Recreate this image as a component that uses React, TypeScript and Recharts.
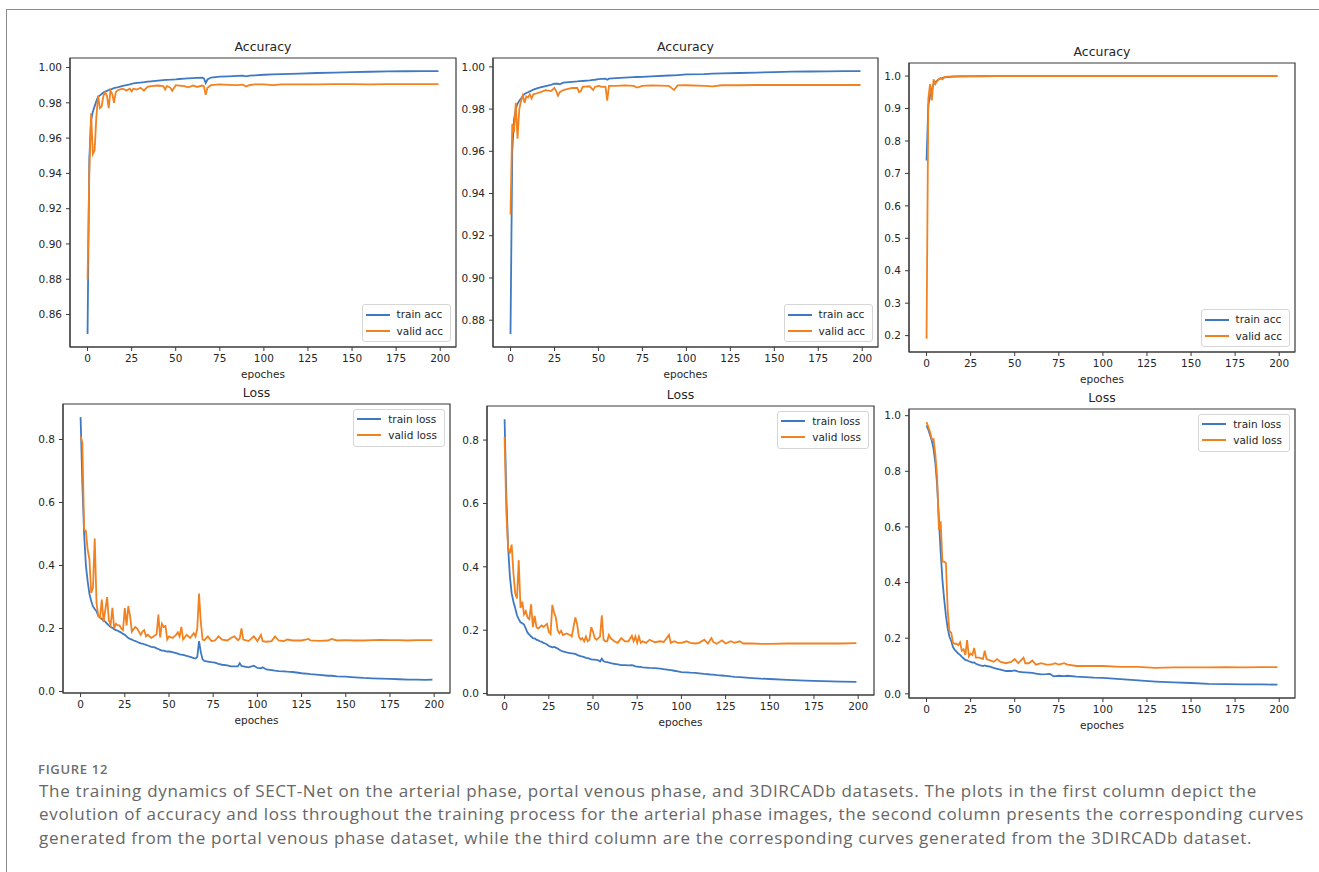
import React from 'react';
import { LineChart, Line, XAxis, YAxis, ReferenceArea, Legend } from 'recharts';

// ---------------- DATA ----------------
const xTicks = [0, 25, 50, 75, 100, 125, 150, 175, 200];
const accTicksArterial = [0.86, 0.88, 0.9, 0.92, 0.94, 0.96, 0.98, 1.0];
const accTicksPortal = [0.88, 0.9, 0.92, 0.94, 0.96, 0.98, 1.0];
const accTicksIrcad = [0.2, 0.3, 0.4, 0.5, 0.6, 0.7, 0.8, 0.9, 1.0];
const lossTicksArterial = [0.0, 0.2, 0.4, 0.6, 0.8];
const lossTicksPortal = [0.0, 0.2, 0.4, 0.6, 0.8];
const lossTicksIrcad = [0.0, 0.2, 0.4, 0.6, 0.8, 1.0];

// Panel 1: arterial phase accuracy
const arterialAccEpochs = [0,1,2,3,4,5,6,7,8,9,10,11,12,13,14,15,16,17,18,20,22,24,25,26,28,30,32,34,36,40,43,44,45,47,48,50,52,55,57,60,62,65,66,67,68,70,75,80,85,88,90,92,95,100,105,110,120,130,140,150,160,170,180,190,199];
const arterialTrainAcc = [0.849,0.948,0.970,0.975,0.978,0.981,0.9835,0.9842,0.985,0.9858,0.9864,0.9868,0.9872,0.9876,0.9879,0.9883,0.9886,0.9888,0.9891,
  0.9896,0.99,0.9905,0.9908,0.991,0.9913,0.9915,0.9917,0.992,0.9922,
  0.9926,0.9929,0.993,0.993,0.9931,0.9932,0.9933,0.9935,0.9937,0.9938,
  0.994,0.9941,0.9942,0.9938,0.9912,0.9932,0.9943,0.9948,0.995,0.9953,
  0.9954,0.995,0.9954,0.9956,0.9959,0.9961,0.9963,0.9966,0.9969,0.9971,
  0.9974,0.9976,0.9978,0.9979,0.998,0.998];
const arterialValidAcc = [0.880,0.940,0.974,0.951,0.953,0.972,0.984,0.977,0.978,0.984,0.986,0.984,0.977,0.987,0.985,0.980,0.986,0.987,0.9875,
  0.988,0.987,0.988,0.9865,0.988,0.9875,0.9885,0.987,0.989,0.9895,
  0.9898,0.9895,0.9875,0.9895,0.9885,0.9868,0.990,0.9898,0.9895,0.9888,
  0.9898,0.989,0.9898,0.9893,0.9845,0.9885,0.990,0.9904,0.9902,0.990,
  0.9903,0.9892,0.9901,0.9905,0.9905,0.990,0.9905,0.9904,0.9905,0.9906,
  0.9906,0.9905,0.9906,0.9906,0.9906,0.9906];

// Panel 2: portal venous phase accuracy
const portalAccEpochs = [0,1,2,3,4,5,6,7,8,9,10,11,12,13,15,17,20,23,25,26,27,28,30,35,38,39,40,41,45,47,48,50,52,54,55,56,60,65,70,72,75,80,90,93,95,100,110,115,120,130,140,150,160,170,180,190,199];
const portalTrainAcc = [0.8735,0.960,0.975,0.980,0.9825,0.984,0.985,0.9862,0.9872,0.9876,0.988,0.9884,0.9888,0.9892,
  0.9898,0.9903,0.9909,0.9915,0.992,0.9921,0.992,0.9917,0.9925,0.9929,
  0.9931,0.9932,0.9932,0.9933,0.9936,0.9938,0.9939,0.9942,0.9943,0.9944,
  0.9939,0.9944,0.9947,0.9949,0.9951,0.9952,0.9953,0.9955,0.9959,0.996,
  0.9961,0.9964,0.9966,0.9968,0.9969,0.9971,0.9973,0.9975,0.9977,0.9978,
  0.9979,0.998,0.998];
const portalValidAcc = [0.930,0.973,0.969,0.983,0.966,0.980,0.984,0.9865,0.983,0.986,0.9855,0.987,0.985,0.987,
  0.9875,0.988,0.989,0.9885,0.990,0.9885,0.9863,0.988,0.989,0.990,
  0.990,0.988,0.9885,0.9905,0.9908,0.989,0.9905,0.991,0.9905,0.9906,
  0.984,0.991,0.991,0.9912,0.991,0.9902,0.991,0.9912,0.991,0.989,
  0.9912,0.9913,0.991,0.9908,0.9913,0.9913,0.9914,0.9914,0.9914,0.9914,
  0.9914,0.9914,0.9914];

// Panel 3: 3DIRCADb accuracy
const ircadAccEpochs = [0,1,2,3,4,5,6,7,8,9,10,12,15,20,25,30,40,50,75,100,125,150,175,199];
const ircadTrainAcc = [0.74,0.91,0.94,0.96,0.975,0.981,0.986,0.99,0.993,0.994,0.996,0.997,0.998,0.999,0.9993,0.9995,0.9996,0.9997,0.9997,0.9998,0.9998,0.9998,0.9998,0.9998];
const ircadValidAcc = [0.19,0.93,0.975,0.925,0.99,0.975,0.985,0.99,0.994,0.99,0.996,0.998,0.999,0.9995,0.9996,0.9997,0.9997,0.9998,0.9998,0.9998,0.9998,0.9998,0.9998,0.9998];

// Panel 4: arterial phase loss
const arterialLossEpochs = [0,1,2,3,4,5,6,7,8,9,10,11,12,13,14,15,16,17,18,19,20,21,22,23,24,25,26,27,28,29,30,31,32,33,34,35,36,37,38,
  40,42,43,44,45,46,47,48,49,50,52,54,55,56,57,58,60,62,64,65,66,67,68,69,70,72,74,76,78,80,
  83,85,87,89,90,91,92,95,98,100,102,103,105,108,110,112,115,117,120,125,129,130,135,140,142,145,150,155,160,165,
  170,175,180,185,190,195,199];
const arterialTrainLoss = [0.871,0.66,0.50,0.40,0.35,0.31,0.287,0.27,0.262,0.255,
  0.24,0.235,0.23,0.226,0.222,0.215,0.21,0.205,0.202,0.198,
  0.195,0.193,0.19,0.187,0.183,0.18,0.175,0.17,0.167,0.165,
  0.162,0.16,0.158,0.155,0.153,0.152,0.15,0.148,0.146,
  0.142,0.14,0.137,0.135,0.132,0.13,0.13,0.128,0.127,0.127,
  0.125,0.122,0.12,0.118,0.117,0.116,0.113,0.11,0.106,0.105,
  0.11,0.16,0.125,0.102,0.097,0.095,0.093,0.092,0.088,0.085,
  0.083,0.08,0.08,0.08,0.09,0.081,0.08,0.077,0.082,0.075,
  0.074,0.077,0.07,0.068,0.066,0.065,0.064,0.063,0.062,0.058,
  0.056,0.055,0.053,0.05,0.05,0.048,0.047,0.045,0.043,0.042,
  0.041,0.04,0.039,0.038,0.038,0.037,0.038];
const arterialValidLoss = [0.81,0.79,0.514,0.51,0.45,0.42,0.313,0.33,0.486,0.281,
  0.24,0.235,0.292,0.22,0.26,0.30,0.225,0.212,0.266,0.20,
  0.215,0.21,0.21,0.20,0.195,0.265,0.21,0.271,0.24,0.19,
  0.198,0.205,0.20,0.19,0.18,0.19,0.195,0.175,0.18,
  0.17,0.178,0.182,0.244,0.172,0.215,0.205,0.208,0.165,0.175,
  0.17,0.18,0.188,0.175,0.205,0.165,0.18,0.17,0.185,0.175,
  0.2,0.311,0.22,0.165,0.163,0.175,0.16,0.162,0.175,0.165,
  0.162,0.17,0.175,0.163,0.168,0.20,0.165,0.16,0.175,0.16,
  0.18,0.16,0.158,0.16,0.175,0.162,0.16,0.165,0.162,0.162,
  0.167,0.162,0.161,0.162,0.167,0.162,0.163,0.162,0.162,0.163,
  0.164,0.163,0.163,0.162,0.163,0.163,0.163];

// Panel 5: portal venous phase loss
const portalLossEpochs = [0,1,2,3,4,5,6,7,8,9,10,11,12,13,14,15,16,17,18,19,20,21,22,23,24,25,26,27,28,29,30,31,32,33,
  35,37,38,40,41,42,43,44,45,46,47,48,49,50,51,52,53,54,55,56,57,58,59,60,62,64,66,68,70,72,
  73,74,75,76,77,78,80,82,85,88,90,93,94,96,98,100,103,105,108,110,113,115,117,118,120,123,125,128,130,133,
  135,140,145,150,160,170,180,190,199];
const portalTrainLoss = [0.866,0.62,0.46,0.37,0.316,0.29,0.27,0.247,0.235,0.225,
  0.222,0.218,0.205,0.192,0.186,0.18,0.175,0.174,0.17,0.168,
  0.165,0.163,0.16,0.158,0.155,0.15,0.148,0.146,0.147,0.145,
  0.142,0.138,0.135,0.133,
  0.13,0.128,0.127,0.125,0.122,0.12,0.118,0.117,0.115,0.113,
  0.112,0.11,0.108,0.107,0.107,0.106,0.105,0.101,0.11,0.102,
  0.1,0.099,0.098,0.096,0.094,0.092,0.09,0.09,0.089,0.09,
  0.088,0.086,0.085,0.084,0.084,0.083,0.082,0.081,0.08,0.079,
  0.077,0.075,0.074,0.072,0.07,0.068,0.067,0.066,0.065,0.064,
  0.062,0.061,0.06,0.06,0.058,0.057,0.056,0.054,0.053,0.052,
  0.051,0.049,0.047,0.046,0.043,0.041,0.039,0.038,0.037];
const portalValidLoss = [0.81,0.57,0.46,0.442,0.47,0.38,0.316,0.30,0.421,0.27,
  0.29,0.25,0.26,0.24,0.235,0.282,0.21,0.245,0.21,0.205,
  0.21,0.215,0.21,0.215,0.22,0.195,0.188,0.28,0.255,0.24,
  0.2,0.19,0.198,0.185,
  0.19,0.185,0.18,0.24,0.22,0.18,0.17,0.175,0.165,0.18,
  0.165,0.17,0.21,0.195,0.175,0.17,0.175,0.18,0.247,0.17,
  0.165,0.165,0.185,0.175,0.165,0.16,0.175,0.165,0.165,0.182,
  0.165,0.18,0.16,0.18,0.16,0.165,0.16,0.17,0.162,0.165,
  0.163,0.185,0.16,0.165,0.16,0.16,0.165,0.16,0.158,0.16,
  0.17,0.158,0.175,0.163,0.157,0.168,0.158,0.165,0.16,0.165,
  0.158,0.158,0.157,0.157,0.158,0.158,0.158,0.158,0.159];

// Panel 6: 3DIRCADb loss
const ircadLossEpochs = [0,1,2,3,4,5,6,7,8,9,10,11,12,13,14,15,16,17,18,19,20,21,22,23,24,25,26,27,28,
  30,32,33,34,36,38,40,42,45,48,50,52,55,56,58,60,62,65,68,70,
  72,73,75,78,80,85,90,95,100,110,120,130,140,150,160,170,180,190,199];
const ircadTrainLoss = [0.965,0.95,0.93,0.91,0.88,0.83,0.75,0.63,0.51,0.41,
  0.34,0.28,0.235,0.205,0.19,0.168,0.158,0.152,0.145,0.14,
  0.133,0.128,0.122,0.12,0.117,0.115,0.112,0.113,0.108,
  0.103,0.1,0.102,0.1,0.098,0.093,0.09,0.087,0.082,0.082,
  0.084,0.08,0.077,0.077,0.076,0.075,0.073,0.07,0.071,0.072,
  0.063,0.064,0.065,0.064,0.065,0.062,0.06,0.058,0.057,0.053,
  0.048,0.044,0.041,0.039,0.036,0.035,0.034,0.034,0.033];
const ircadValidLoss = [0.977,0.96,0.94,0.915,0.916,0.86,0.78,0.59,0.62,0.475,
  0.475,0.47,0.30,0.225,0.22,0.183,0.18,0.18,0.175,0.185,
  0.155,0.16,0.14,0.193,0.135,0.145,0.14,0.165,0.13,
  0.13,0.125,0.155,0.125,0.12,0.115,0.125,0.115,0.11,0.115,
  0.125,0.11,0.13,0.11,0.11,0.12,0.105,0.11,0.105,0.105,
  0.108,0.11,0.105,0.11,0.105,0.1,0.1,0.1,0.1,0.097,
  0.097,0.093,0.095,0.095,0.095,0.096,0.095,0.096,0.096];

const captionLines = [
  'The training dynamics of SECT-Net on the arterial phase, portal venous phase, and 3DIRCADb datasets. The plots in the first column depict the',
  'evolution of accuracy and loss throughout the training process for the arterial phase images, the second column presents the corresponding curves',
  'generated from the portal venous phase dataset, while the third column are the corresponding curves generated from the 3DIRCADb dataset.',
];

// ---------------- STYLE ----------------
const FONT = '"DejaVu Sans", "DejaVu Sans Book", Verdana, sans-serif';
const CAPTION_FONT = '"Open Sans", sans-serif';
const TEXT = '#262626';
const FRAME = '#3a3a3a';
const BLUE = '#3f79c2';
const ORANGE = '#f28220';
const X_DOMAIN: [number, number] = [-9.95, 208.95];
const Y_W = 52;
const R_M = 12;
const T_M = 30;
const X_H = 40;

function LegendBox(props: any) {
  const payload = props.payload || [];
  return (
    <div
      style={{
        background: 'rgba(255,255,255,0.85)',
        border: '1px solid #d6d6d6',
        borderRadius: 3,
        padding: '1px 7px 2px 3px',
        fontFamily: FONT,
        fontSize: 10.5,
        color: TEXT,
        lineHeight: '16.3px',
      }}
    >
      {payload.map((p: any) => (
        <div key={p.value} style={{ display: 'flex', alignItems: 'center', whiteSpace: 'nowrap' }}>
          <div style={{ width: 24, height: 2, background: p.color, marginRight: 7, flex: '0 0 auto' }} />
          <span>{p.value}</span>
        </div>
      ))}
    </div>
  );
}

type Box = { left: number; top: number; width: number; height: number };

function Panel(props: {
  box: Box;
  title: string;
  epochs: number[];
  train: number[];
  valid: number[];
  names: [string, string];
  yDomain: [number, number];
  yTicks: number[];
  digits: number;
  legendAt: 'top' | 'bottom';
}) {
  const { box, title, epochs, train, valid, names, yDomain, yTicks, digits, legendAt } = props;
  const data = epochs.map((e, i) => ({ epoch: e, train: train[i], valid: valid[i] }));
  const W = Y_W + box.width + R_M;
  const H = T_M + box.height + X_H;
  const legendStyle: any =
    legendAt === 'bottom'
      ? { right: R_M + 5, bottom: X_H + 5, left: 'auto', top: 'auto', width: 'auto', height: 'auto' }
      : { right: R_M + 5, top: T_M + 5, left: 'auto', bottom: 'auto', width: 'auto', height: 'auto' };
  const tickStyle = { fill: TEXT, fontSize: 10.5, fontFamily: FONT, style: { fontFamily: FONT } };
  return (
    <div style={{ position: 'absolute', left: box.left - Y_W, top: box.top - T_M, width: W, height: H, fontFamily: FONT }}>
      <div
        style={{
          position: 'absolute',
          left: Y_W,
          width: box.width,
          top: T_M - 19,
          textAlign: 'center',
          fontFamily: FONT,
          fontSize: 12.5,
          lineHeight: '15px',
          color: TEXT,
        }}
      >
        {title}
      </div>
      <LineChart
        width={W}
        height={H}
        data={data}
        margin={{ top: T_M, right: R_M, left: 0, bottom: 0 }}
        style={{ fontFamily: FONT }}
      >
        <XAxis
          dataKey="epoch"
          type="number"
          domain={X_DOMAIN}
          allowDataOverflow
          ticks={xTicks}
          interval={0}
          height={X_H}
          tickSize={4}
          tickMargin={4}
          stroke={FRAME}
          tick={tickStyle}
        />
        <YAxis
          type="number"
          domain={yDomain}
          allowDataOverflow
          ticks={yTicks}
          interval={0}
          width={Y_W}
          tickSize={4}
          tickMargin={4}
          stroke={FRAME}
          tick={tickStyle}
          tickFormatter={(v: number) => v.toFixed(digits)}
        />
        <ReferenceArea
          x1={X_DOMAIN[0]}
          x2={X_DOMAIN[1]}
          y1={yDomain[0]}
          y2={yDomain[1]}
          fill="none"
          fillOpacity={0}
          stroke={FRAME}
          strokeWidth={1.2}
          ifOverflow="visible"
        />
        <Line dataKey="train" name={names[0]} type="linear" stroke={BLUE} strokeWidth={1.8} dot={false} isAnimationActive={false} />
        <Line dataKey="valid" name={names[1]} type="linear" stroke={ORANGE} strokeWidth={1.8} dot={false} isAnimationActive={false} />
        <Legend layout="vertical" align="center" verticalAlign="middle" content={<LegendBox />} wrapperStyle={legendStyle} />
      </LineChart>
      <div
        style={{
          position: 'absolute',
          left: Y_W,
          width: box.width,
          top: T_M + box.height + 20,
          textAlign: 'center',
          fontFamily: FONT,
          fontSize: 10.5,
          lineHeight: '15px',
          color: TEXT,
        }}
      >
        epoches
      </div>
    </div>
  );
}

export default function App() {
  return (
    <div style={{ position: 'absolute', left: 0, top: 0, width: 1319, height: 872, background: '#fff', overflow: 'hidden' }}>
      <div
        style={{
          position: 'absolute',
          left: 6,
          top: 9,
          width: 1320,
          height: 880,
          borderTop: '1.5px solid #8a8a8a',
          borderLeft: '1.5px solid #8a8a8a',
        }}
      />
      <Panel box={{ left: 70, top: 58, width: 386, height: 289 }} title="Accuracy" epochs={arterialAccEpochs}
        train={arterialTrainAcc} valid={arterialValidAcc} names={['train acc', 'valid acc']}
        yDomain={[0.8416, 1.0054]} yTicks={accTicksArterial} digits={2} legendAt="bottom" />
      <Panel box={{ left: 493, top: 58, width: 385, height: 289 }} title="Accuracy" epochs={portalAccEpochs}
        train={portalTrainAcc} valid={portalValidAcc} names={['train acc', 'valid acc']}
        yDomain={[0.8673, 1.0042]} yTicks={accTicksPortal} digits={2} legendAt="bottom" />
      <Panel box={{ left: 909, top: 63, width: 386, height: 289 }} title="Accuracy" epochs={ircadAccEpochs}
        train={ircadTrainAcc} valid={ircadValidAcc} names={['train acc', 'valid acc']}
        yDomain={[0.1495, 1.0403]} yTicks={accTicksIrcad} digits={1} legendAt="bottom" />
      <Panel box={{ left: 63, top: 404, width: 387, height: 289 }} title="Loss" epochs={arterialLossEpochs}
        train={arterialTrainLoss} valid={arterialValidLoss} names={['train loss', 'valid loss']}
        yDomain={[-0.0047, 0.9127]} yTicks={lossTicksArterial} digits={1} legendAt="top" />
      <Panel box={{ left: 487, top: 406, width: 387, height: 289 }} title="Loss" epochs={portalLossEpochs}
        train={portalTrainLoss} valid={portalValidLoss} names={['train loss', 'valid loss']}
        yDomain={[-0.0045, 0.9075]} yTicks={lossTicksPortal} digits={1} legendAt="top" />
      <Panel box={{ left: 909, top: 409, width: 386, height: 289 }} title="Loss" epochs={ircadLossEpochs}
        train={ircadTrainLoss} valid={ircadValidLoss} names={['train loss', 'valid loss']}
        yDomain={[-0.015, 1.024]} yTicks={lossTicksIrcad} digits={1} legendAt="top" />
      <div
        style={{
          position: 'absolute',
          left: 38,
          top: 762.5,
          fontFamily: CAPTION_FONT,
          fontWeight: 600,
          fontSize: 13,
          letterSpacing: 0.7,
          lineHeight: '12px',
          color: '#6e6e6e',
          whiteSpace: 'nowrap',
        }}
      >
        FIGURE 12
      </div>
      {captionLines.map((line, i) => (
        <div
          key={i}
          style={{
            position: 'absolute',
            left: 39,
            top: 780.5 + i * 23.65,
            fontFamily: CAPTION_FONT,
            fontSize: 17,
            letterSpacing: 0.68,
            lineHeight: '20px',
            color: '#666666',
            whiteSpace: 'nowrap',
          }}
        >
          {line}
        </div>
      ))}
    </div>
  );
}
